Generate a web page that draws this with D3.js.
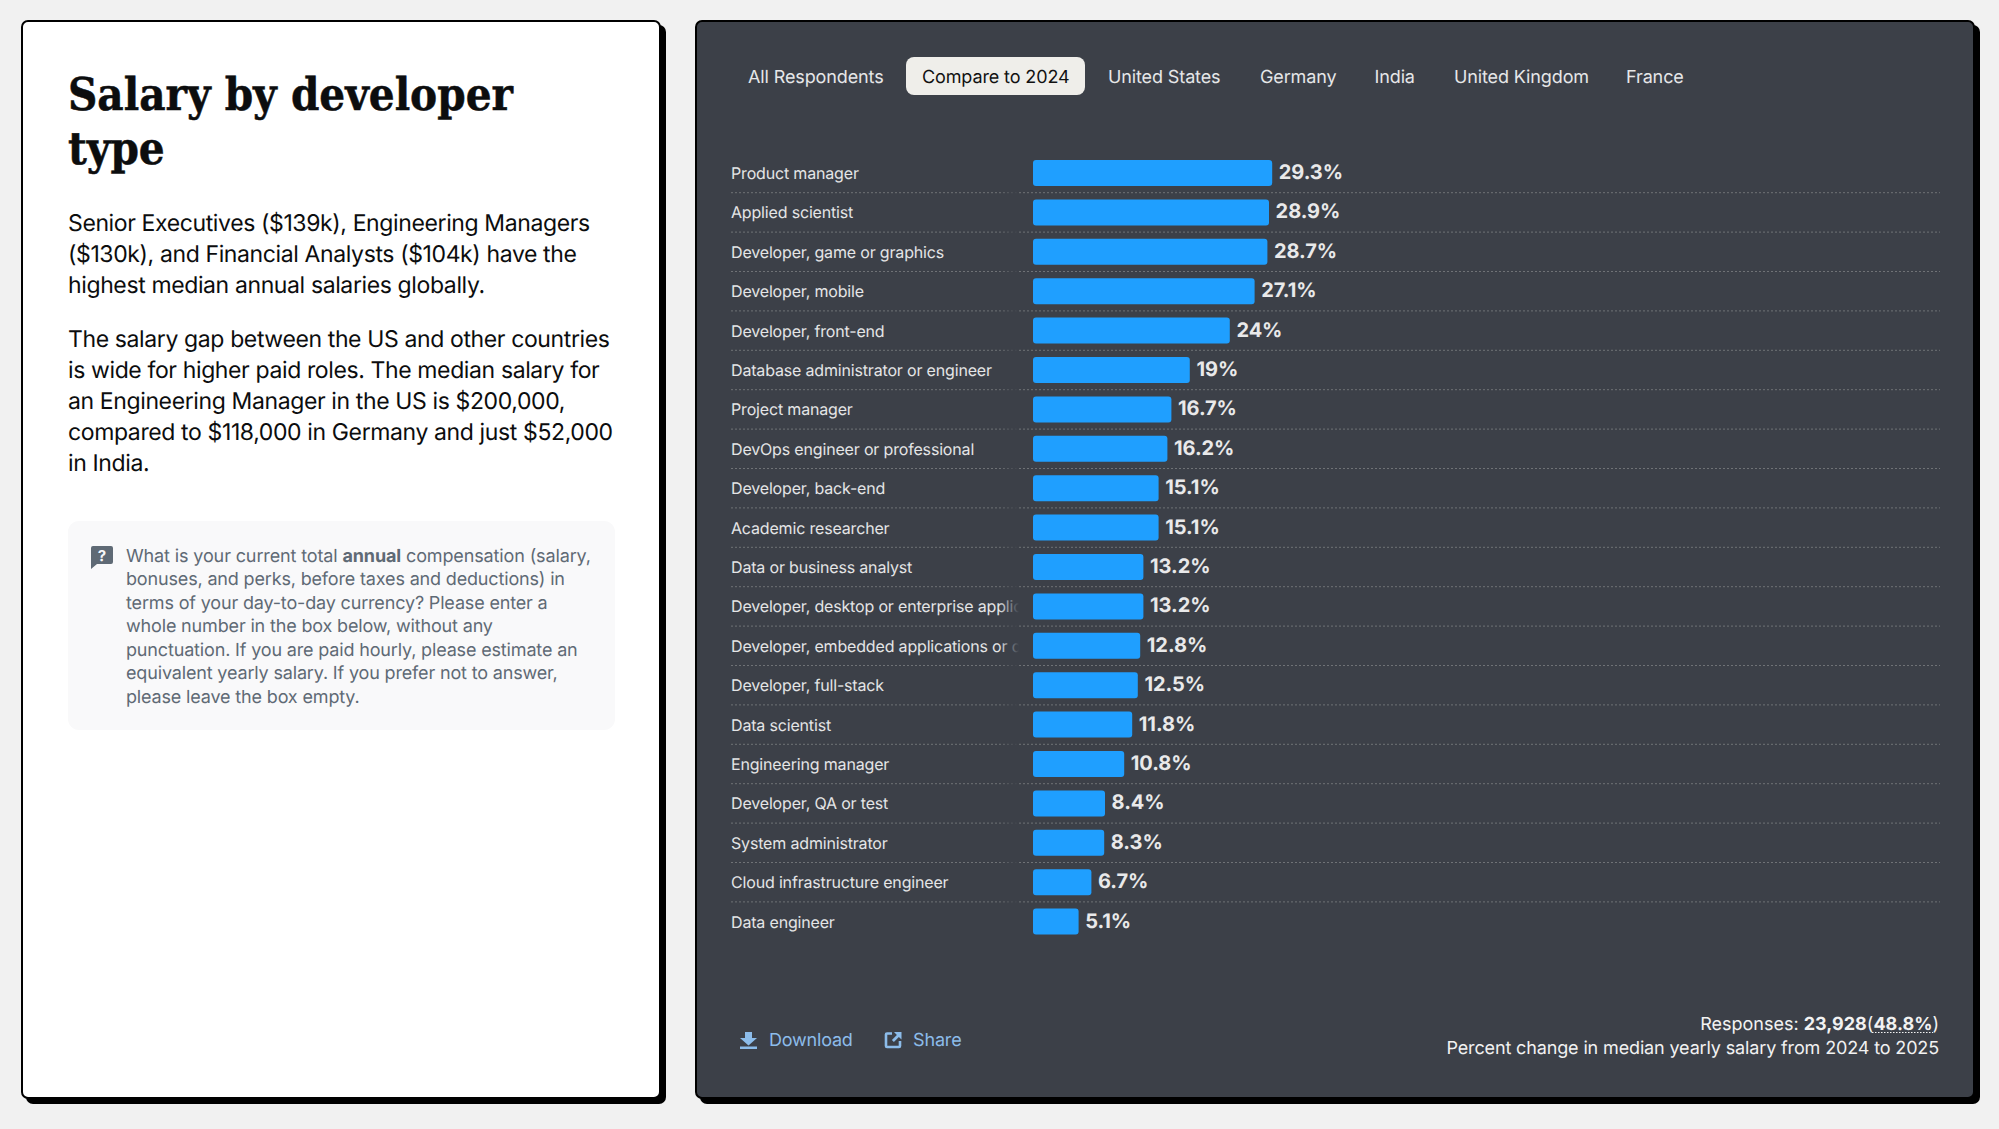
<!DOCTYPE html>
<html><head><meta charset="utf-8">
<script src="https://cdn.jsdelivr.net/npm/d3@7"></script>
<style>
html,body{margin:0;padding:0;background:#f1f1f1;overflow:hidden}
svg{display:block}
text{font-family:Inter,"Noto Sans",sans-serif;text-rendering:geometricPrecision}
</style></head><body>
<svg id="c" width="1999" height="1129"></svg>
<script>
const categories = ["Product manager","Applied scientist","Developer, game or graphics","Developer, mobile","Developer, front-end","Database administrator or engineer","Project manager","DevOps engineer or professional","Developer, back-end","Academic researcher","Data or business analyst","Developer, desktop or enterprise applications","Developer, embedded applications or devices","Developer, full-stack","Data scientist","Engineering manager","Developer, QA or test","System administrator","Cloud infrastructure engineer","Data engineer"];
const values = [29.3,28.9,28.7,27.1,24,19,16.7,16.2,15.1,15.1,13.2,13.2,12.8,12.5,11.8,10.8,8.4,8.3,6.7,5.1];
const tabs = ["All Respondents","Compare to 2024","United States","Germany","India","United Kingdom","France"];
const tabX = [748,922,1108,1260,1374.5,1454,1626];
const titleLines = ["Salary by developer","type"];
const para1 = ["Senior Executives ($139k), Engineering Managers","($130k), and Financial Analysts ($104k) have the","highest median annual salaries globally."];
const para2 = ["The salary gap between the US and other countries","is wide for higher paid roles. The median salary for","an Engineering Manager in the US is $200,000,","compared to $118,000 in Germany and just $52,000","in India."];
const question = ["bonuses, and perks, before taxes and deductions) in","terms of your day-to-day currency? Please enter a","whole number in the box below, without any","punctuation. If you are paid hourly, please estimate an","equivalent yearly salary. If you prefer not to answer,","please leave the box empty."];

const PANEL="#3c4048";
const svg=d3.select("#c");
const defs=svg.append("defs");
const grad=defs.append("linearGradient").attr("id","fade");
grad.append("stop").attr("offset","0").attr("stop-color",PANEL).attr("stop-opacity",0);
grad.append("stop").attr("offset","1").attr("stop-color",PANEL).attr("stop-opacity",1);
defs.append("clipPath").attr("id","lab").append("rect").attr("x",725).attr("y",140).attr("width",294).attr("height",810);

function card(x,y,w,h,fill){
  svg.append("rect").attr("x",x+5).attr("y",y+5).attr("width",w).attr("height",h).attr("rx",7).attr("fill","#000");
  svg.append("rect").attr("x",x+1).attr("y",y+1).attr("width",w-2).attr("height",h-2).attr("rx",6).attr("fill",fill).attr("stroke","#000").attr("stroke-width",2);
}
card(21,20,640,1079,"#fff");
card(695,20,1280,1079,PANEL);

// left text
const left=svg.append("g");
left.selectAll("text.t").data(titleLines).join("text").attr("class","t")
  .attr("x",68).attr("y",(d,i)=>110+i*54).attr("font-size",45.2).attr("font-weight",700)
  .style("font-family","'DejaVu Serif Condensed','DejaVu Serif',serif").style("font-stretch","condensed")
  .attr("fill","#0c0d0e").attr("stroke","#0c0d0e").attr("stroke-width",0.5).text(d=>d);
left.selectAll("text.p1").data(para1).join("text").attr("class","p1").attr("x",68).attr("y",(d,i)=>231+i*31)
  .attr("font-size",23).attr("letter-spacing",-0.38).attr("fill","#0c0d0e").text(d=>d);
left.selectAll("text.p2").data(para2).join("text").attr("class","p2").attr("x",68).attr("y",(d,i)=>347+i*31)
  .attr("font-size",23).attr("letter-spacing",-0.38).attr("fill","#0c0d0e").text(d=>d);
left.append("rect").attr("x",68).attr("y",521).attr("width",547).attr("height",209).attr("rx",11).attr("fill","#f9f9fa");
const QC="#5f6a75";
const q0=left.append("text").attr("x",126).attr("y",562).attr("font-size",18).attr("letter-spacing",-0.13).attr("fill",QC);
q0.append("tspan").text("What is your current total ");
q0.append("tspan").attr("font-weight",700).text("annual");
q0.append("tspan").text(" compensation (salary,");
left.selectAll("text.q").data(question).join("text").attr("class","q").attr("x",126).attr("y",(d,i)=>585+i*23.5)
  .attr("font-size",18).attr("letter-spacing",-0.16).attr("fill",QC).text(d=>d);
left.append("path").attr("d","M93,546H111a2,2 0 0 1 2,2V562a2,2 0 0 1 -2,2H97L91,569V548a2,2 0 0 1 2,-2Z").attr("fill",QC);
left.append("text").attr("x",102).attr("y",561).attr("text-anchor","middle").attr("font-size",15).attr("font-weight",700).attr("fill","#f9f9fa").text("?");

// tabs
svg.append("rect").attr("x",906).attr("y",57).attr("width",179).attr("height",38).attr("rx",8).attr("fill","#efeeea");
svg.selectAll("text.tab").data(tabs).join("text").attr("class","tab").attr("x",(d,i)=>tabX[i]).attr("y",83)
  .attr("font-size",18).attr("letter-spacing",-0.12).attr("fill",(d,i)=>i==1?"#111":"#e6e7e8").text(d=>d);

// chart
const y=d3.scaleBand().domain(categories).range([153.3,153.3+788]).paddingInner(0.34).paddingOuter(0.17);
const x=d3.scaleLinear().domain([0,100]).range([1037.8,1837.8]);
const X0=1033;
svg.selectAll("line.sep").data(categories.slice(0,-1)).join("line").attr("class","sep")
  .attr("x1",731).attr("x2",1940).attr("y1",d=>y(d)+y.bandwidth()+6.7).attr("y2",d=>y(d)+y.bandwidth()+6.7)
  .attr("stroke","#6f7276").attr("stroke-width",1).attr("stroke-dasharray","2 2");
const labels=svg.append("g").attr("clip-path","url(#lab)");
labels.selectAll("text").data(categories).join("text").attr("x",731).attr("y",d=>y(d)+y.bandwidth()/2+6)
  .attr("font-size",16).attr("letter-spacing",-0.17).attr("fill","#e4e5e6").text(d=>d);
svg.append("rect").attr("x",999).attr("y",140).attr("width",20).attr("height",810).attr("fill","url(#fade)").attr("pointer-events","none");
svg.selectAll("rect.bar").data(values).join("rect").attr("class","bar")
  .attr("x",X0).attr("y",(d,i)=>y(categories[i])).attr("width",d=>x(d)-X0).attr("height",y.bandwidth()).attr("rx",3).attr("fill","#1f9fff");
svg.selectAll("text.val").data(values).join("text").attr("class","val")
  .attr("x",d=>x(d)+6.6).attr("y",(d,i)=>y(categories[i])+y.bandwidth()/2+6)
  .attr("font-size",20).attr("font-weight",700).attr("letter-spacing",-0.05).attr("fill","#e9e9ea").text(d=>d+"%");

// footer
const LINK="#8cbcea";
svg.append("path").attr("d","M745,1032h7v6h5l-8.5,7.5L740,1038h5ZM740,1046.5h17v2.5h-17Z").attr("fill",LINK);
svg.append("text").attr("x",769).attr("y",1046).attr("font-size",18).attr("letter-spacing",-0.2).attr("fill",LINK).text("Download");
svg.append("path").attr("d","M892,1033.5H887a1,1 0 0 0 -1,1V1046a1,1 0 0 0 1,1H899a1,1 0 0 0 1,-1V1041").attr("fill","none").attr("stroke",LINK).attr("stroke-width",2.6);
svg.append("path").attr("d","M894,1032h7.5v7.5l-2.6,-2.6l-5,5l-2,-2l5,-5Z").attr("fill",LINK);
svg.append("text").attr("x",913).attr("y",1046).attr("font-size",18).attr("letter-spacing",-0.15).attr("fill",LINK).text("Share");
const r=svg.append("text").attr("x",1939).attr("y",1030).attr("text-anchor","end").attr("font-size",18).attr("fill","#f2f2f2");
r.append("tspan").text("Responses: ");
r.append("tspan").attr("font-weight",700).text("23,928");
r.append("tspan").text("(");
r.append("tspan").attr("font-weight",700).text("48.8%");
r.append("tspan").text(")");
svg.append("line").attr("x1",1872).attr("x2",1933).attr("y1",1032.5).attr("y2",1032.5).attr("stroke","#f2f2f2").attr("stroke-width",1).attr("stroke-dasharray","1.5 1.5");
svg.append("text").attr("x",1939).attr("y",1054).attr("text-anchor","end").attr("font-size",18).attr("letter-spacing",-0.14).attr("fill","#f2f2f2").text("Percent change in median yearly salary from 2024 to 2025");
</script></body></html>
